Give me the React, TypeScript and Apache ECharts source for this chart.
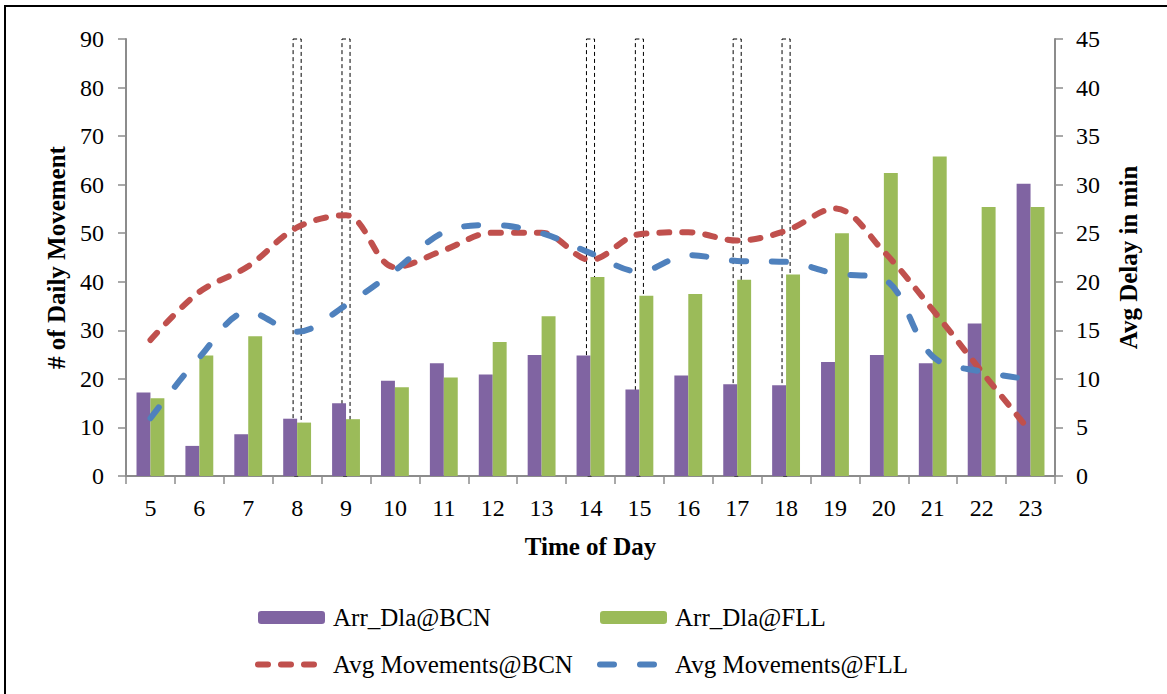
import React, { useEffect, useRef } from "react";
import * as echarts from "echarts";

const hours = ["5", "6", "7", "8", "9", "10", "11", "12", "13", "14", "15", "16", "17", "18", "19", "20", "21", "22", "23"];
// Arrival delay (min) – right axis
const arrDlaBCN = [8.6, 3.1, 4.3, 5.9, 7.5, 9.8, 11.6, 10.45, 12.45, 12.4, 8.9, 10.35, 9.45, 9.35, 11.75, 12.45, 11.6, 15.7, 30.1];
const arrDlaFLL = [8.0, 12.4, 14.4, 5.5, 5.85, 9.15, 10.15, 13.8, 16.45, 20.5, 18.55, 18.75, 20.2, 20.75, 25.0, 31.2, 32.9, 27.7, 27.7];
// Average movements – left axis
const avgMovBCN = [28.0, 37.9, 43.2, 51.2, 53.7, 43.0, 46.5, 50.1, 50.1, 44.5, 49.8, 50.2, 48.5, 50.5, 55.1, 46.2, 34.2, 21.5, 9.1];
const avgMovFLL = [11.9, 24.4, 33.8, 29.7, 35.2, 42.3, 50.2, 51.7, 50.0, 45.9, 42.1, 45.5, 44.3, 44.1, 41.7, 40.5, 24.6, 21.5, 19.9];
// Highlighted hours (dashed boxes)
const markedHours = ["8", "9", "14", "15", "17", "18"];

const FONT = "'Liberation Serif', 'Times New Roman', serif";
const AXIS_COLOR = "#8c8c8c";
const RED = "#C0504D";
const BLUE = "#4F81BD";
const RED_DASH = [10, 13];
const BLUE_DASH = [14, 26];

export default function App() {
  const ref = useRef<HTMLDivElement>(null);

  useEffect(() => {
    if (!ref.current) return;
    const chart = echarts.init(ref.current, undefined, { renderer: "svg" });

    const axisCommon = {
      axisLine: { show: true, lineStyle: { color: AXIS_COLOR, width: 2 } },
      axisTick: { show: true, inside: false, length: 8, lineStyle: { color: AXIS_COLOR, width: 1.5 } },
      splitLine: { show: false },
    };

    const legendText = { fontFamily: FONT, fontSize: 25, color: "#000", lineHeight: 24, padding: [0, 0, 0, 3] };

    chart.setOption({
      animation: false,
      backgroundColor: "#ffffff",
      textStyle: { fontFamily: FONT },
      grid: { left: 126, right: 112, top: 39, bottom: 218, containLabel: false },
      graphic: [
        {
          type: "rect",
          shape: { x: 5, y: 6, width: 1200, height: 720 },
          style: { fill: "none", stroke: "#000", lineWidth: 2 },
          silent: true,
        },
      ],
      legend: [
        {
          left: 255,
          top: 605,
          orient: "vertical",
          padding: 0,
          itemGap: 22,
          itemWidth: 67,
          itemHeight: 13,
          data: [
            { name: "Arr_Dla@BCN" },
            {
              name: "Avg Movements@BCN",
              itemStyle: { opacity: 0 },
              lineStyle: { width: 6, type: RED_DASH, cap: "round", color: RED },
            },
          ],
          textStyle: legendText,
        },
        {
          left: 597,
          top: 605,
          orient: "vertical",
          padding: 0,
          itemGap: 22,
          itemWidth: 67,
          itemHeight: 13,
          data: [
            { name: "Arr_Dla@FLL" },
            {
              name: "Avg Movements@FLL",
              itemStyle: { opacity: 0 },
              lineStyle: { width: 6, type: BLUE_DASH, cap: "round", color: BLUE },
            },
          ],
          textStyle: legendText,
        },
      ],
      xAxis: {
        type: "category",
        data: hours,
        boundaryGap: true,
        ...axisCommon,
        axisTick: { show: true, length: 8, lineStyle: { color: AXIS_COLOR, width: 1.5 } },
        axisLabel: { fontFamily: FONT, fontSize: 24, color: "#000", margin: 20 },
        name: "Time of Day",
        nameLocation: "middle",
        nameGap: 58,
        nameTextStyle: { fontFamily: FONT, fontSize: 25, fontWeight: "bold", color: "#000" },
      },
      yAxis: [
        {
          type: "value",
          min: 0,
          max: 90,
          interval: 10,
          position: "left",
          ...axisCommon,
          axisLabel: { fontFamily: FONT, fontSize: 24, color: "#000", margin: 22 },
          name: "# of Daily Movement",
          nameLocation: "middle",
          nameRotate: 90,
          nameGap: 56,
          nameTextStyle: { fontFamily: FONT, fontSize: 25, fontWeight: "bold", color: "#000" },
        },
        {
          type: "value",
          min: 0,
          max: 45,
          interval: 5,
          position: "right",
          ...axisCommon,
          axisLabel: { fontFamily: FONT, fontSize: 24, color: "#000", margin: 21 },
          name: "Avg Delay in min",
          nameLocation: "middle",
          nameRotate: 90,
          nameGap: 61,
          nameTextStyle: { fontFamily: FONT, fontSize: 25, fontWeight: "bold", color: "#000" },
        },
      ],
      series: [
        {
          name: "marked",
          type: "custom",
          xAxisIndex: 0,
          yAxisIndex: 0,
          silent: true,
          data: markedHours.map((h) => [hours.indexOf(h)]),
          encode: { x: 0 },
          renderItem: (params: any, api: any) => {
            const idx = api.value(0);
            const top = api.coord([idx, 90]);
            const bottom = api.coord([idx, 0]);
            const w = api.size([1, 0])[0] * 0.165;
            return {
              type: "rect",
              shape: { x: top[0] - w / 2, y: top[1], width: w, height: bottom[1] - top[1] },
              style: { fill: "none", stroke: "#000", lineWidth: 1, lineDash: [4, 3] },
            };
          },
        },
        {
          name: "Arr_Dla@BCN",
          type: "bar",
          yAxisIndex: 1,
          data: arrDlaBCN,
          barGap: "0%",
          barCategoryGap: "43%",
          itemStyle: { color: "#8064A2" },
        },
        {
          name: "Arr_Dla@FLL",
          type: "bar",
          yAxisIndex: 1,
          data: arrDlaFLL,
          barGap: "0%",
          barCategoryGap: "43%",
          itemStyle: { color: "#9BBB59" },
        },
        {
          name: "Avg Movements@BCN",
          type: "line",
          yAxisIndex: 0,
          data: avgMovBCN,
          smooth: 0.35,
          symbol: "none",
          itemStyle: { color: RED },
          lineStyle: { color: RED, width: 6, type: RED_DASH, cap: "round" },
        },
        {
          name: "Avg Movements@FLL",
          type: "line",
          yAxisIndex: 0,
          data: avgMovFLL,
          smooth: 0.35,
          symbol: "none",
          itemStyle: { color: BLUE },
          lineStyle: { color: BLUE, width: 6, type: BLUE_DASH, cap: "round" },
        },
      ],
    });

    return () => chart.dispose();
  }, []);

  return (
    <div
      ref={ref}
      style={{ position: "fixed", left: 0, top: 0, width: 1167, height: 694, background: "#fff" }}
    />
  );
}
